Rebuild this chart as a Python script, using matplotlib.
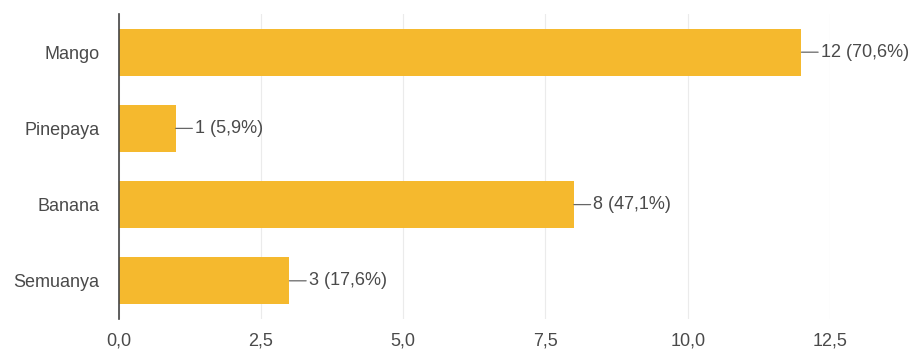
import matplotlib
matplotlib.use('Agg')
from matplotlib import pyplot as plt

# data
categories = ['Mango', 'Pinepaya', 'Banana', 'Semuanya']
counts = [12, 1, 8, 3]
percents = ['70,6%', '5,9%', '47,1%', '17,6%']
xticks = [0, 2.5, 5, 7.5, 10, 12.5]
xtick_labels = ['0,0', '2,5', '5,0', '7,5', '10,0', '12,5']

plt.rcParams['font.family'] = ['Liberation Sans', 'DejaVu Sans']

fig = plt.figure(figsize=(9.14, 3.52), dpi=100)
ax = fig.add_axes([0.130, 0.094, 0.778, 0.866])

ypos = list(range(len(categories)))
ax.barh(ypos, counts, height=0.62, color='#F5B92E', zorder=2)

for y, c, p in zip(ypos, counts, percents):
    ax.annotate('{} ({})'.format(c, p), xy=(c, y), xytext=(14, 0),
                textcoords='offset points', va='center', ha='left',
                fontsize=13, color='#4a4a4a',
                arrowprops=dict(arrowstyle='-', color='#666666', lw=0.9,
                                shrinkA=0, shrinkB=0))

ax.set_xlim(0, 12.5)
ax.set_ylim(3.5, -0.5)
ax.set_yticks(ypos)
ax.set_yticklabels(categories)
ax.set_xticks(xticks)
ax.set_xticklabels(xtick_labels)
ax.tick_params(axis='both', length=0, labelsize=13, colors='#4a4a4a')
ax.tick_params(axis='y', pad=14)
ax.tick_params(axis='x', pad=10)

ax.grid(axis='x', color='#ebebeb', lw=0.8, zorder=0)
for s in ['top', 'right', 'bottom']:
    ax.spines[s].set_visible(False)
ax.spines['left'].set_color('#444444')
ax.spines['left'].set_linewidth(1.2)
ax.spines['left'].set_zorder(3)

fig.savefig('out.png', dpi=100)
